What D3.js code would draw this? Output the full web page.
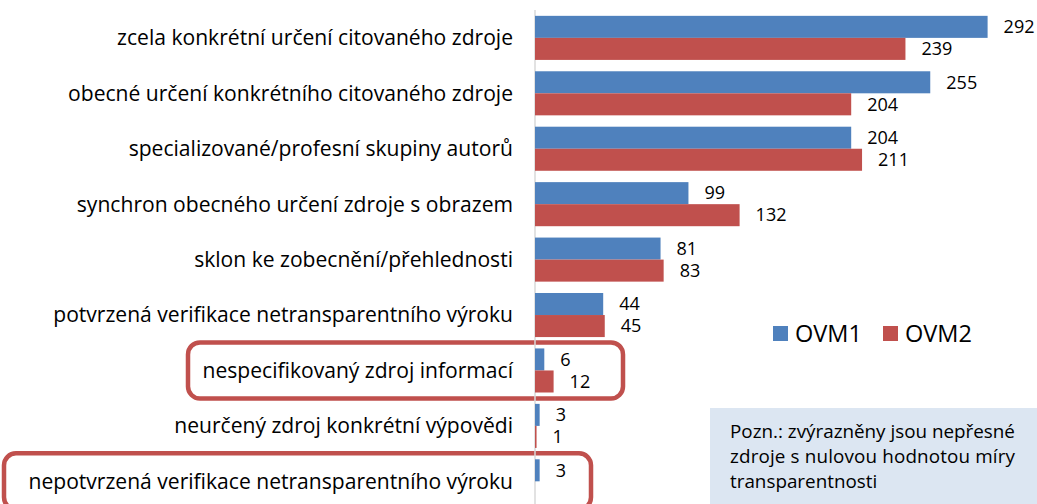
<!DOCTYPE html>
<html>
<head>
  <meta charset="UTF-8">
  <script src="https://cdn.jsdelivr.net/npm/d3@7"></script>
  <style>
    body { margin: 0; background: #fff; }
    svg { display: block; font-family: "Open Sans", sans-serif; }
  </style>
</head>
<body>
<svg width="1037" height="504"></svg>
<script>
  var categories = [
    "zcela konkrétní určení citovaného zdroje",
    "obecné určení konkrétního citovaného zdroje",
    "specializované/profesní skupiny autorů",
    "synchron obecného určení zdroje s obrazem",
    "sklon ke zobecnění/přehlednosti",
    "potvrzená verifikace netransparentního výroku",
    "nespecifikovaný zdroj informací",
    "neurčený zdroj konkrétní výpovědi",
    "nepotvrzená verifikace netransparentního výroku"
  ];
  var seriesNames = ["OVM1", "OVM2"];
  var ovm1 = [292, 255, 204, 99, 81, 44, 6, 3, 3];
  var ovm2 = [239, 204, 211, 132, 83, 45, 12, 1, 0];
  var highlighted = [
    "nespecifikovaný zdroj informací",
    "nepotvrzená verifikace netransparentního výroku"
  ];
  var noteLines = [
    "Pozn.: zvýrazněny jsou nepřesné",
    "zdroje s nulovou hodnotou míry",
    "transparentnosti"
  ];

  var colors = ["#4F81BD", "#C0504D"];
  var svg = d3.select("svg");

  // pick a font size so that a text has the wanted width
  function fitSize(str, width) {
    var t = svg.append("text").attr("font-size", 20).text(str);
    var w = t.node().getComputedTextLength();
    t.remove();
    return 20 * width / w;
  }
  var catSize = fitSize(categories[0], 396);
  var valSize = fitSize("292", 31);
  var legSize = fitSize("OVM1", 67);
  var noteSize = fitSize(noteLines[0], 285);

  var x = d3.scaleLinear().domain([0, 300]).range([535, 1000]);
  var y = d3.scaleBand().domain(categories).range([10.3, 508.9]).paddingInner(0.205).paddingOuter(0.1);
  var ySub = d3.scaleBand().domain(seriesNames).range([0, y.bandwidth()]);

  var rows = categories.map(function (c, i) {
    return { cat: c, values: [ovm1[i], ovm2[i]] };
  });

  // highlight boxes round the imprecise sources
  var boxes = [
    { cat: highlighted[0], x0: 188, x1: 623 },
    { cat: highlighted[1], x0: 4, x1: 591 }
  ];
  svg.selectAll("rect.hl")
    .data(boxes)
    .enter().append("rect")
    .attr("class", "hl")
    .attr("x", function (d) { return d.x0; })
    .attr("y", function (d) { return y(d.cat) - 6; })
    .attr("width", function (d) { return d.x1 - d.x0; })
    .attr("height", function (d) { return y.bandwidth() + 12; })
    .attr("rx", 12)
    .attr("fill", "none")
    .attr("stroke", "#C0504D")
    .attr("stroke-width", 4.5);

  // axis line
  svg.append("line")
    .attr("x1", x(0)).attr("x2", x(0))
    .attr("y1", 10).attr("y2", 504)
    .attr("stroke", "#D9D9D9")
    .attr("stroke-width", 1.5);

  // category labels
  svg.selectAll("text.cat")
    .data(categories)
    .enter().append("text")
    .attr("class", "cat")
    .attr("x", x(0) - 22)
    .attr("y", function (d) { return y(d) + y.bandwidth() / 2; })
    .attr("dy", "0.35em")
    .attr("text-anchor", "end")
    .attr("font-size", catSize)
    .attr("fill", "#000")
    .text(function (d) { return d; });

  var groups = svg.selectAll("g.row")
    .data(rows)
    .enter().append("g")
    .attr("class", "row")
    .attr("transform", function (d) { return "translate(0," + y(d.cat) + ")"; });

  groups.selectAll("rect")
    .data(function (d) { return d.values.map(function (v, j) { return { s: seriesNames[j], v: v, j: j }; }); })
    .enter().append("rect")
    .attr("x", x(0))
    .attr("y", function (d) { return ySub(d.s); })
    .attr("width", function (d) { return x(d.v) - x(0); })
    .attr("height", ySub.bandwidth())
    .attr("fill", function (d) { return colors[d.j]; });

  groups.selectAll("text")
    .data(function (d) { return d.values.map(function (v, j) { return { s: seriesNames[j], v: v }; }).filter(function (d) { return d.v > 0; }); })
    .enter().append("text")
    .attr("x", function (d) { return x(d.v) + 16; })
    .attr("y", function (d) { return ySub(d.s) + ySub.bandwidth() / 2; })
    .attr("dy", "0.35em")
    .attr("font-size", valSize)
    .attr("fill", "#000")
    .text(function (d) { return d.v; });

  // legend
  var legend = svg.selectAll("g.legend")
    .data(seriesNames)
    .enter().append("g")
    .attr("class", "legend")
    .attr("transform", function (d, i) { return "translate(" + (773 + i * 110) + ",326)"; });
  legend.append("rect")
    .attr("width", 15).attr("height", 15)
    .attr("fill", function (d, i) { return colors[i]; });
  legend.append("text")
    .attr("x", 22).attr("y", 7.5).attr("dy", "0.35em")
    .attr("font-size", legSize)
    .text(function (d) { return d; });

  // note box
  svg.append("rect")
    .attr("x", 710).attr("y", 408)
    .attr("width", 327).attr("height", 96)
    .attr("fill", "#DCE6F2");
  svg.selectAll("text.note")
    .data(noteLines)
    .enter().append("text")
    .attr("class", "note")
    .attr("x", 730)
    .attr("y", function (d, i) { return 438 + i * 25; })
    .attr("font-size", noteSize)
    .attr("textLength", function (d, i) { return i === 1 ? 285 : null; })
    .attr("lengthAdjust", "spacing")
    .text(function (d) { return d; });
</script>
</body>
</html>
